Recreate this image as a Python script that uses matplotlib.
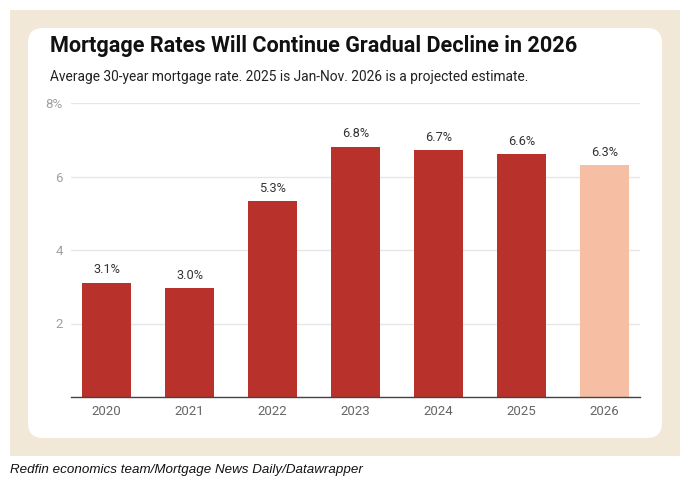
import matplotlib
matplotlib.use("Agg")
import matplotlib.pyplot as plt
from matplotlib.patches import FancyBboxPatch, Rectangle

years = ["2020", "2021", "2022", "2023", "2024", "2025", "2026"]
rates = [3.11, 2.96, 5.32, 6.81, 6.72, 6.6, 6.3]
labels = ["3.1%", "3.0%", "5.3%", "6.8%", "6.7%", "6.6%", "6.3%"]
projected = [False, False, False, False, False, False, True]
yticks = [0, 2, 4, 6, 8]
ytick_labels = ["", "2", "4", "6", "8%"]

title = "Mortgage Rates Will Continue Gradual Decline in 2026"
subtitle = "Average 30-year mortgage rate. 2025 is Jan-Nov. 2026 is a projected estimate."
source = "Redfin economics team/Mortgage News Daily/Datawrapper"

W, H = 696, 492
fig = plt.figure(figsize=(W / 100, H / 100), dpi=100)
fig.patch.set_facecolor("white")

def fx(px):
    return px / W

def fy(py):
    return 1 - py / H

# beige frame
fig.patches.append(Rectangle((fx(10), fy(456)), fx(680) - fx(10), fy(10) - fy(456),
                             transform=fig.transFigure, facecolor="#f1e8d8",
                             edgecolor="none", zorder=0))
# white card
r = 15
fig.patches.append(FancyBboxPatch((fx(28 + r), fy(438 - r)), fx(662 - 28 - 2 * r), (438 - 28 - 2 * r) / H,
                                  boxstyle=f"round,pad={r / W}",
                                  transform=fig.transFigure, facecolor="white",
                                  edgecolor="none", zorder=1,
                                  mutation_aspect=W / H))

ax = fig.add_axes([fx(71), fy(397), fx(640) - fx(71), (397 - 103) / H])
ax.set_facecolor("none")
ax.set_zorder(2)

x = list(range(len(years)))
colors = ["#f6bea3" if p else "#b8312a" for p in projected]
ax.bar(x, rates, width=0.59, color=colors, zorder=3)
for xi, v, lab in zip(x, rates, labels):
    ax.text(xi, v + 0.17, lab, ha="center", va="bottom", fontsize=9.2,
            family="Roboto", color="#333333", zorder=4)

ax.set_xlim(-0.43, 6.43)
ax.set_ylim(0, 8)
ax.set_yticks(yticks)
ax.set_yticklabels(ytick_labels)
ax.set_xticks(x)
ax.set_xticklabels(years)
for s in ["top", "right", "left"]:
    ax.spines[s].set_visible(False)
ax.spines["bottom"].set_color("#444444")
ax.spines["bottom"].set_linewidth(1.0)
ax.spines["bottom"].set_zorder(5)
ax.tick_params(axis="both", length=0, colors="#888888")
ax.tick_params(axis="x", pad=6, colors="#666666", labelsize=9.5)
ax.tick_params(axis="y", pad=6, colors="#a0a0a0", labelsize=9.5)
for t in ax.get_xticklabels() + ax.get_yticklabels():
    t.set_family("Roboto")
ax.yaxis.grid(True, color="#e6e6e6", linewidth=1.0, zorder=0)
ax.set_axisbelow(True)

fig.text(fx(50), fy(46), title, ha="left", va="center", fontsize=15.6,
         fontweight="bold", family="Roboto", color="#111111", zorder=5)
fig.text(fx(50), fy(77), subtitle, ha="left", va="center", fontsize=9.9,
         family="Roboto", color="#222222", zorder=5)
fig.text(fx(10), fy(470), source, ha="left", va="center", fontsize=9.6,
         style="italic", family="Liberation Sans", color="#111111", zorder=5)

fig.savefig("out.png", dpi=100, facecolor=fig.get_facecolor())
